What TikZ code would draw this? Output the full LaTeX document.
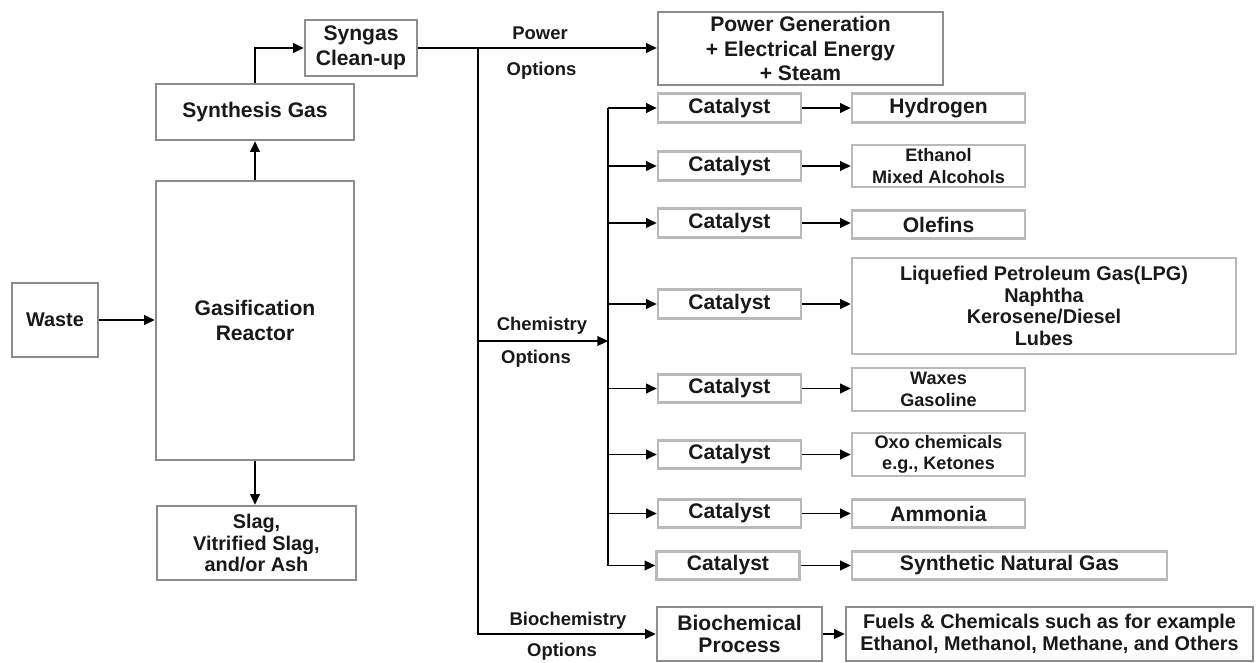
\documentclass[tikz,border=0pt]{standalone}
\usepackage{fontspec}
\setmainfont{Liberation Sans}
\usetikzlibrary{arrows.meta}
\tikzset{>={Stealth[inset=0pt, length=6pt, width=5.5pt]}}
\definecolor{boxgray}{RGB}{140,140,140}
\definecolor{litegray}{RGB}{185,185,185}
\tikzset{
	box/.style = {draw=boxgray, line width=1.5pt, align=center, inner sep=1pt, text=black!90, font=\fontsize{12}{14}\selectfont\bfseries},
	small/.style = {font=\fontsize{11.3}{12.4}\selectfont\bfseries},
	tiny/.style = {font=\fontsize{10.3}{12.3}\selectfont\bfseries},
	catbox/.style = {box, draw=litegray, minimum width=2.86cm, minimum height=0.57cm},
	prodbox/.style = {catbox, minimum width=3.46cm},
	lbl/.style = {text=black!90, font=\fontsize{10.5}{12}\selectfont\bfseries},
	flow/.style = {->, line width=1pt}
}

\begin{document}
\begin{tikzpicture}[x=0.02cm, y=-0.02cm]
	\useasboundingbox (0,0) rectangle (1256,662);

	\node[box, small, minimum width=1.72cm, minimum height=1.48cm] (waste) at (55,320) {Waste};
	\node[box, minimum width=3.96cm, minimum height=5.58cm] (reactor) at (255,320.5) {Gasification\\Reactor};
	\node[box, minimum width=3.96cm, minimum height=1.12cm] (synth) at (255,112) {Synthesis Gas};
	\node[box, minimum width=2.24cm, minimum height=1.12cm] (clean) at (361,48) {Syngas\\Clean-up};
	\node[box, small, minimum width=3.98cm, minimum height=1.48cm] (slag) at (256.5,543) {Slag,\\Vitrified Slag,\\and/or Ash};
	\node[box, minimum width=5.70cm, minimum height=1.46cm] (power) at (800.5,48.5) {Power Generation\\+ Electrical Energy\\+ Steam};
	\node[box, minimum width=3.30cm, minimum height=1.08cm, font=\fontsize{12}{13}\selectfont\bfseries] (bio) at (739.5,634) {Biochemical\\Process};
	\node[box, small, minimum width=8.14cm, minimum height=1.08cm] (fuels) at (1049.5,634) {Fuels \& Chemicals such as for example\\Ethanol, Methanol, Methane, and Others};

	\node[catbox] (cat1) at (729.5,108) {Catalyst};
	\node[catbox] (cat2) at (729.5,166) {Catalyst};
	\node[catbox] (cat3) at (729.5,223) {Catalyst};
	\node[catbox] (cat4) at (729.5,304) {Catalyst};
	\node[catbox] (cat5) at (729.5,388.5) {Catalyst};
	\node[catbox] (cat6) at (729.5,454.5) {Catalyst};
	\node[catbox] (cat7) at (729.5,513.5) {Catalyst};
	\node[catbox] (cat8) at (728,565.5) {Catalyst};

	\node[prodbox] (hydrogen) at (938.5,108) {Hydrogen};
	\node[prodbox, tiny, minimum height=0.84cm] (ethanol) at (938.5,166) {Ethanol\\Mixed Alcohols};
	\node[prodbox] (olefins) at (938.5,224.5) {Olefins};
	\node[prodbox, small, minimum width=7.68cm, minimum height=1.92cm] (lpg) at (1044,306) {Liquefied Petroleum Gas(LPG)\\Naphtha\\Kerosene/Diesel\\Lubes};
	\node[prodbox, tiny, minimum height=0.86cm] (waxes) at (938.5,389.5) {Waxes\\Gasoline};
	\node[prodbox, tiny, minimum height=0.86cm] (oxo) at (938.5,454.5) {Oxo chemicals\\e.g., Ketones};
	\node[prodbox] (ammonia) at (938.5,513.5) {Ammonia};
	\node[prodbox, minimum width=6.30cm] (sng) at (1009.5,565.5) {Synthetic Natural Gas};

	\node[lbl] (powerup) at (540,33) {Power};
	\node[lbl] (powerdown) at (541.5,71) {Options};
	\node[lbl] (chemup) at (542,326) {Chemistry};
	\node[lbl] (chemdown) at (536,359) {Options};
	\node[lbl] (bioup) at (568,621) {Biochemistry};
	\node[lbl] (biodown) at (562,652) {Options};

	\coordinate (split) at (478,48);
	\coordinate (chem) at (608,341);

	\draw[flow] (waste.east) -- (waste.east -| reactor.west);
	\draw[flow] (reactor) -- (synth);
	\draw[flow] (synth.north) |- (clean.west);
	\draw[flow] (reactor.south) -- (reactor.south |- slag.north);
	\draw[flow] (clean.east) -- (clean.east -| power.west);
	\draw[flow] (split) |- (bio.west);
	\draw[flow] (split |- chem) -- (chem);
	\draw[flow] (bio.east) -- (fuels.west);
	\draw[line width=1pt] (cat1.west -| chem) -- (cat8.west -| chem);
	\draw[flow] (cat1.west -| chem) -- (cat1.west);
	\draw[flow] (cat2.west -| chem) -- (cat2.west);
	\draw[flow] (cat3.west -| chem) -- (cat3.west);
	\draw[flow] (cat4.west -| chem) -- (cat4.west);
	\draw[flow] (cat5.west -| chem) -- (cat5.west);
	\draw[flow] (cat6.west -| chem) -- (cat6.west);
	\draw[flow] (cat7.west -| chem) -- (cat7.west);
	\draw[flow] (cat8.west -| chem) -- (cat8.west);
	\draw[flow] (cat1.east) -- (cat1.east -| hydrogen.west);
	\draw[flow] (cat2.east) -- (cat2.east -| ethanol.west);
	\draw[flow] (cat3.east) -- (cat3.east -| olefins.west);
	\draw[flow] (cat4.east) -- (cat4.east -| lpg.west);
	\draw[flow] (cat5.east) -- (cat5.east -| waxes.west);
	\draw[flow] (cat6.east) -- (cat6.east -| oxo.west);
	\draw[flow] (cat7.east) -- (cat7.east -| ammonia.west);
	\draw[flow] (cat8.east) -- (cat8.east -| sng.west);
\end{tikzpicture}
\end{document}
